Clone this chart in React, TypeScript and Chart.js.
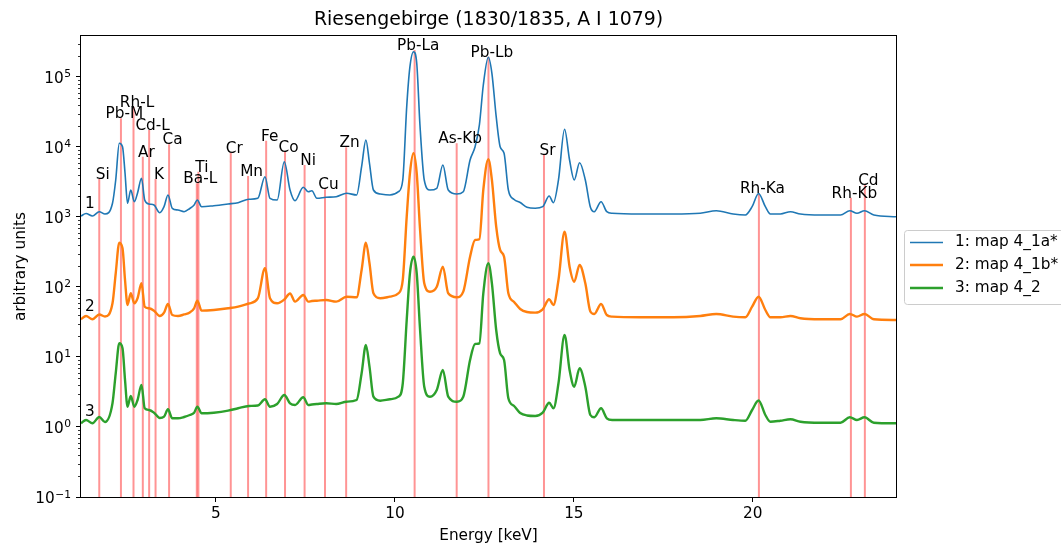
import React, { useEffect, useRef } from "react";
import { Chart, registerables } from "chart.js";

Chart.register(...registerables);

// ---------- data ----------
const TITLE = "Riesengebirge (1830/1835, A I 1079)";
const X_LABEL = "Energy [keV]";
const Y_LABEL = "arbitrary units";

const X_MIN = 1.23;
const X_MAX = 24.0;
const Y_MIN = 0.1;
const Y_MAX = 385000;
const X_TICKS = [5, 10, 15, 20];
const Y_TICKS = [0.1, 1, 10, 100, 1000, 10000, 100000];
const Y_TICK_EXP = ["\u22121", "0", "1", "2", "3", "4", "5"];

const ENERGY = [
  1.23, 1.37, 1.55, 1.74, 1.9, 2.11, 2.2, 2.3, 2.39, 2.46, 2.53, 2.62, 2.72, 2.81, 2.92, 3.01, 3.13, 3.27, 3.43, 3.55,
  3.66, 3.78, 3.94, 4.11, 4.27, 4.39, 4.48, 4.6, 4.94, 5.34, 5.62, 5.92, 6.17, 6.37, 6.51, 6.71, 6.91, 7.07, 7.21, 7.44,
  7.58, 7.68, 7.82, 8.08, 8.36, 8.65, 8.93, 9.07, 9.19, 9.29, 9.4, 9.59, 9.86, 10.1, 10.22, 10.33, 10.42, 10.52, 10.61, 10.7,
  10.82, 10.98, 11.17, 11.34, 11.49, 11.73, 11.91, 12.1, 12.24, 12.36, 12.47, 12.61, 12.71, 12.83, 12.94, 13.05, 13.17, 13.33, 13.5, 13.69,
  13.92, 14.13, 14.31, 14.43, 14.57, 14.74, 14.88, 15.01, 15.16, 15.32, 15.46, 15.57, 15.76, 15.92, 16.07, 16.85, 17.78, 18.53, 18.98, 19.45,
  19.79, 19.98, 20.16, 20.35, 20.49, 20.77, 21.05, 21.33, 21.89, 22.45, 22.71, 22.91, 23.12, 23.38, 24.0,
];

const SERIES_1 = [
  1034, 1122, 1034, 1190, 1104, 1569, 3378, 11300, 10100, 4253, 1569, 2431, 1654, 2203, 3572, 1750, 1533, 1484, 1152, 1403,
  2062, 1331, 1259, 1190, 1323, 1484, 1750, 1403, 1450, 1533, 1601, 1790, 1850, 3765, 1850, 1750, 6166, 2431, 1710, 2657,
  2298, 2375, 1850, 1912, 1950, 2181, 2062, 5232, 12590, 5850, 2431, 2131, 2062, 2298, 3378, 37650, 140300, 229800, 156900, 20620,
  3378, 2431, 2570, 5535, 2431, 2131, 2298, 6521, 10100, 20620, 76870, 191200, 112900, 27090, 10100, 8128, 2431, 1778, 1612, 1376,
  1331, 1403, 1995, 1601, 3378, 17900, 6521, 3378, 5966, 3378, 1390, 1190, 1654, 1190, 1129, 1104, 1104, 1129, 1230, 1104,
  1068, 1403, 2167, 1403, 1104, 1104, 1190, 1104, 1068, 1068, 1230, 1129, 1230, 1068, 1010,
];

const SERIES_2 = [
  34.6, 38.5, 34.6, 40.5, 37.9, 58.5, 156.9, 429.5, 357.2, 125.9, 55.3, 81.3, 58.5, 69.0, 112.9, 52.3, 49.6, 45.9, 38.5, 43.0,
  57.2, 39.8, 38.5, 40.5, 43.2, 49.6, 63.7, 45.9, 46.9, 49.6, 52.3, 58.1, 68.5, 185.0, 69.0, 58.5, 66.3, 80.8, 61.7, 76.9,
  61.7, 63.1, 63.7, 65.2, 61.7, 72.7, 71.3, 175.0, 429.5, 218.1, 81.3, 69.0, 72.7, 81.3, 125.9, 1010, 4211, 8128, 4211, 696.5,
  112.9, 85.7, 101.0, 195.0, 81.3, 71.3, 85.7, 270.9, 469.2, 480.2, 2431, 6672, 3378, 726.8, 337.7, 270.9, 81.3, 61.1, 48.5, 43.9,
  43.0, 48.0, 66.7, 55.3, 125.9, 616.6, 195.0, 119.0, 206.2, 112.9, 44.7, 41.2, 57.2, 39.8, 37.7, 36.9, 36.9, 38.5, 41.2, 37.7,
  36.9, 52.3, 72.7, 46.9, 36.9, 36.9, 38.5, 35.7, 34.6, 34.6, 41.2, 37.7, 41.2, 34.6, 33.8,
];

const SERIES_3 = [
  1.129, 1.259, 1.129, 1.389, 1.179, 2.181, 5.85, 15.69, 13.31, 4.692, 1.95, 2.773, 1.95, 2.431, 3.981, 1.85, 1.75, 1.601, 1.345, 1.403,
  1.79, 1.331, 1.331, 1.389, 1.484, 1.601, 1.95, 1.569, 1.601, 1.71, 1.85, 1.995, 2.028, 2.488, 1.95, 2.131, 2.865, 2.181, 2.062, 2.657,
  2.062, 2.096, 2.131, 2.181, 2.131, 2.298, 2.431, 5.85, 14.84, 7.268, 2.709, 2.375, 2.488, 2.709, 4.211, 33.77, 156.9, 270.9, 156.9, 25.96,
  3.765, 2.709, 3.377, 6.521, 2.709, 2.298, 2.709, 9.063, 15.34, 15.69, 81.28, 218.1, 112.9, 24.31, 11.29, 9.063, 2.57, 1.995, 1.585, 1.46,
  1.436, 1.601, 2.224, 1.85, 4.211, 20.62, 6.521, 3.765, 6.896, 3.765, 1.484, 1.376, 1.85, 1.331, 1.259, 1.259, 1.259, 1.259, 1.331, 1.259,
  1.23, 1.75, 2.391, 1.484, 1.19, 1.23, 1.288, 1.19, 1.152, 1.152, 1.376, 1.259, 1.376, 1.152, 1.129,
];

const SERIES_NAMES = ["1: map 4_1a*", "2: map 4_1b*", "3: map 4_2"];
const SERIES_TAGS = ["1", "2", "3"];
const TAG_KEV = 1.34;
const TAG_Y = [1345, 45.4, 1.44];

const ELEMENTS = ["Si", "Pb-M", "Rh-L", "Ar", "Cd-L", "K", "Ca", "Ba-L", "Ti", "Cr", "Mn", "Fe", "Co", "Ni", "Cu", "Zn", "Pb-La", "As-Kb", "Pb-Lb", "Sr", "Rh-Ka", "Rh-Kb", "Cd"];
const ELEMENT_KEV = [1.74, 2.346, 2.697, 2.957, 3.134, 3.313, 3.691, 4.465, 4.51, 5.414, 5.898, 6.403, 6.93, 7.477, 8.047, 8.638, 10.551, 11.726, 12.614, 14.165, 20.17, 22.74, 23.13];
const ELEMENT_TOP = [3490, 25700, 37650, 7268, 17500, 3490, 10930, 3029, 4438, 8289, 3852, 12300, 8483, 5535, 2488, 9901, 243000, 11300, 195000, 7687, 2181, 1887, 2865];

// ---------- styles ----------
const COLORS = ["#1f77b4", "#ff7f0e", "#2ca02c"];
const WIDTHS = [1.6, 2.4, 2.4];
const LINE_RED = "rgba(255, 0, 0, 0.42)";
const FONT = '"DejaVu Sans", sans-serif';
const LABEL_DX = 3.5;
const W = 1061;
const H = 543;

export default function App() {
  const ref = useRef<HTMLCanvasElement>(null);

  useEffect(() => {
    const canvas = ref.current;
    if (!canvas) return;
    document.body.style.margin = "0";

    const series = [SERIES_1, SERIES_2, SERIES_3];
    const spectra = series.map((vals, s) => ({
      label: SERIES_NAMES[s],
      data: ENERGY.map((e, i) => ({ x: e, y: vals[i] })),
      borderColor: COLORS[s],
      backgroundColor: COLORS[s],
      borderWidth: WIDTHS[s],
      pointRadius: 0,
      fill: false,
      cubicInterpolationMode: "monotone" as const,
      order: 3 - s,
    }));
    const vlines = ELEMENTS.map((name, i) => ({
      label: name,
      data: [
        { x: ELEMENT_KEV[i], y: Y_MIN },
        { x: ELEMENT_KEV[i], y: ELEMENT_TOP[i] },
      ],
      borderColor: LINE_RED,
      backgroundColor: LINE_RED,
      borderWidth: 2,
      pointRadius: 0,
      fill: false,
      tension: 0,
      order: 10,
    }));

    const decor = {
      id: "decor",
      afterDraw(chart: any) {
        const { ctx, chartArea: a, scales } = chart;
        const xs = scales.x;
        const ys = scales.y;
        ctx.save();
        // frame
        ctx.strokeStyle = "#000";
        ctx.lineWidth = 1;
        ctx.strokeRect(Math.round(a.left) - 0.5, Math.round(a.top) - 0.5, Math.round(a.right - a.left) + 1, Math.round(a.bottom - a.top) + 1);
        // minor log ticks
        ctx.beginPath();
        for (let d = -1; d <= 5; d++) {
          for (let m = 2; m <= 9; m++) {
            const v = m * Math.pow(10, d);
            if (v > Y_MAX) continue;
            const py = Math.round(ys.getPixelForValue(v)) + 0.5;
            ctx.moveTo(a.left - 3, py);
            ctx.lineTo(a.left, py);
          }
        }
        ctx.lineWidth = 0.8;
        ctx.stroke();

        ctx.fillStyle = "#000";
        // y tick labels (10 with superscript exponent)
        Y_TICKS.forEach((v, i) => {
          const py = ys.getPixelForValue(v);
          const right = a.left - 10;
          ctx.font = `10.7px ${FONT}`;
          ctx.textAlign = "right";
          ctx.textBaseline = "alphabetic";
          const ew = ctx.measureText(Y_TICK_EXP[i]).width;
          ctx.fillText(Y_TICK_EXP[i], right, py + 0.5);
          ctx.font = `15.3px ${FONT}`;
          ctx.fillText("10", right - ew - 0.5, py + 6);
        });

        // title
        ctx.font = `18.9px ${FONT}`;
        ctx.textAlign = "center";
        ctx.textBaseline = "alphabetic";
        ctx.fillText(TITLE, (a.left + a.right) / 2, 25);
        // x label
        ctx.font = `15.3px ${FONT}`;
        ctx.fillText(X_LABEL, (a.left + a.right) / 2, 540);
        // y label
        ctx.save();
        ctx.translate(25, (a.top + a.bottom) / 2);
        ctx.rotate(-Math.PI / 2);
        ctx.fillText(Y_LABEL, 0, 0);
        ctx.restore();

        // element labels
        ctx.textAlign = "center";
        ctx.textBaseline = "alphabetic";
        ELEMENTS.forEach((name, i) => {
          const px = xs.getPixelForValue(ELEMENT_KEV[i]) + LABEL_DX;
          const py = ys.getPixelForValue(ELEMENT_TOP[i]);
          ctx.fillText(name, px, py);
        });
        // series tags
        ctx.textAlign = "left";
        SERIES_TAGS.forEach((t, i) => {
          ctx.fillText(t, xs.getPixelForValue(TAG_KEV), ys.getPixelForValue(TAG_Y[i]));
        });

        // legend
        const lx = 904, ly = 230, lw = 190, lh = 74;
        ctx.beginPath();
        if ((ctx as any).roundRect) (ctx as any).roundRect(lx + 0.5, ly + 0.5, lw, lh, 3);
        else ctx.rect(lx + 0.5, ly + 0.5, lw, lh);
        ctx.fillStyle = "rgba(255,255,255,0.8)";
        ctx.fill();
        ctx.strokeStyle = "#cccccc";
        ctx.lineWidth = 1;
        ctx.stroke();
        const rows = [242.5, 265, 288];
        SERIES_NAMES.forEach((name, i) => {
          ctx.beginPath();
          ctx.moveTo(910, rows[i]);
          ctx.lineTo(943, rows[i]);
          ctx.strokeStyle = COLORS[i];
          ctx.lineWidth = WIDTHS[i];
          ctx.stroke();
          ctx.fillStyle = "#000";
          ctx.font = `15.3px ${FONT}`;
          ctx.textAlign = "left";
          ctx.textBaseline = "middle";
          ctx.fillText(name, 955, rows[i]);
        });
        ctx.restore();
      },
    };

    const tickFont = { family: FONT, size: 15.3 };
    const chart = new Chart(canvas, {
      type: "line",
      data: { datasets: [...spectra, ...vlines] as any },
      options: {
        animation: false,
        responsive: false,
        maintainAspectRatio: false,
        parsing: false as any,
        normalized: true,
        layout: { padding: { left: 0, top: 36, right: W - 896, bottom: 0 } },
        plugins: { legend: { display: false }, tooltip: { enabled: false }, title: { display: false } },
        scales: {
          x: {
            type: "linear",
            min: X_MIN,
            max: X_MAX,
            afterBuildTicks: (s: any) => {
              s.ticks = X_TICKS.map((v) => ({ value: v }));
            },
            afterFit: (s: any) => {
              s.height = H - 497;
            },
            border: { display: false },
            grid: { display: true, drawOnChartArea: false, drawTicks: true, tickLength: 5, tickColor: "#000", tickWidth: 1 },
            ticks: {
              autoSkip: false,
              maxRotation: 0,
              padding: 3,
              color: "#000",
              font: tickFont,
              callback: (v: any) => String(v),
            },
          },
          y: {
            type: "logarithmic",
            min: Y_MIN,
            max: Y_MAX,
            afterBuildTicks: (s: any) => {
              s.ticks = Y_TICKS.map((v) => ({ value: v }));
            },
            afterFit: (s: any) => {
              s.width = 81;
            },
            border: { display: false },
            grid: { display: true, drawOnChartArea: false, drawTicks: true, tickLength: 5, tickColor: "#000", tickWidth: 1 },
            ticks: {
              autoSkip: false,
              padding: 5,
              color: "#000",
              font: tickFont,
              callback: () => "",
            },
          },
        },
      },
      plugins: [decor],
    });
    return () => chart.destroy();
  }, []);

  return (
    <div style={{ position: "fixed", left: 0, top: 0, width: W, height: H, background: "#fff" }}>
      <canvas ref={ref} width={W} height={H} style={{ width: W, height: H, display: "block" }} />
    </div>
  );
}
